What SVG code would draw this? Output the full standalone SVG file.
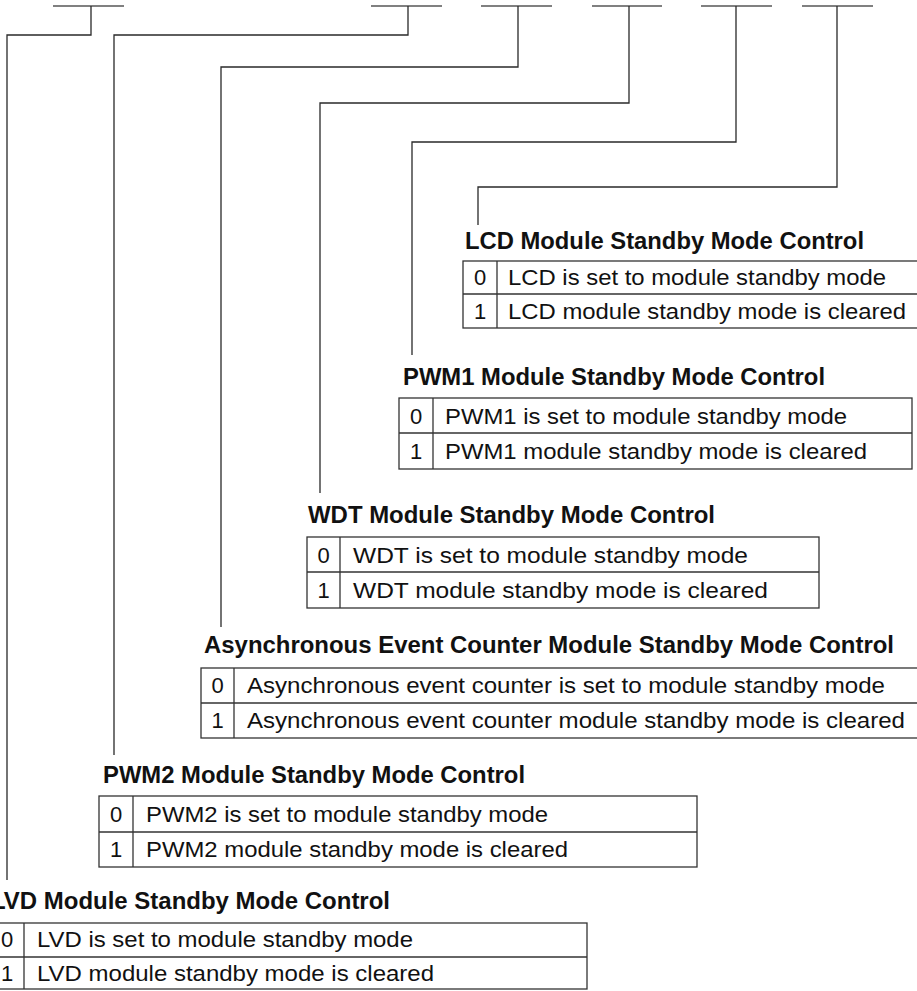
<svg xmlns="http://www.w3.org/2000/svg" width="917" height="991" viewBox="0 0 917 991">
<style>
.bar{stroke:#808080;stroke-width:2;fill:none}
.con{stroke:#2a2a2a;stroke-width:1.3;fill:none}
.tb{stroke:#333;stroke-width:1.3;fill:none}
.ttl{font-family:"Liberation Sans",Arial,sans-serif;font-weight:bold;font-size:23px;fill:#111}
.row{font-family:"Liberation Sans",Arial,sans-serif;font-size:22px;fill:#111}
.dig{font-family:"Liberation Sans",Arial,sans-serif;font-size:22px;fill:#111;text-anchor:middle}
</style>
<rect width="917" height="991" fill="#fff"/>
<g id="bits">
<line class="bar" x1="53" y1="6" x2="124" y2="6"/>
<line class="bar" x1="371" y1="6" x2="442" y2="6"/>
<line class="bar" x1="481" y1="6" x2="552" y2="6"/>
<line class="bar" x1="592" y1="6" x2="662" y2="6"/>
<line class="bar" x1="701" y1="6" x2="772" y2="6"/>
<line class="bar" x1="802" y1="6" x2="873" y2="6"/>
</g>
<g id="connectors">
<path class="con" d="M91,6 V35 H7 V880"/>
<path class="con" d="M408,6 V35 H114 V755"/>
<path class="con" d="M518,6 V67 H221 V627"/>
<path class="con" d="M629,6 V103 H320 V493"/>
<path class="con" d="M736,6 V142 H412 V355"/>
<path class="con" d="M837,6 V187 H478 V225"/>
</g>
<g id="lcd">
<text class="ttl" x="465" y="249" textLength="399" lengthAdjust="spacingAndGlyphs">LCD Module Standby Mode Control</text>
<rect class="tb" x="463" y="261" width="460" height="67"/>
<line class="tb" x1="463" y1="294" x2="923" y2="294"/>
<line class="tb" x1="497" y1="261" x2="497" y2="328"/>
<text class="dig" x="480" y="285">0</text>
<text class="dig" x="480" y="319">1</text>
<text class="row" x="508" y="285" textLength="378" lengthAdjust="spacingAndGlyphs">LCD is set to module standby mode</text>
<text class="row" x="508" y="319" textLength="398" lengthAdjust="spacingAndGlyphs">LCD module standby mode is cleared</text>
</g>
<g id="pwm1">
<text class="ttl" x="403" y="385" textLength="422" lengthAdjust="spacingAndGlyphs">PWM1 Module Standby Mode Control</text>
<rect class="tb" x="399" y="398" width="513" height="71"/>
<line class="tb" x1="399" y1="433" x2="912" y2="433"/>
<line class="tb" x1="433" y1="398" x2="433" y2="469"/>
<text class="dig" x="416" y="424">0</text>
<text class="dig" x="416" y="459">1</text>
<text class="row" x="445" y="424" textLength="402" lengthAdjust="spacingAndGlyphs">PWM1 is set to module standby mode</text>
<text class="row" x="445" y="459" textLength="422" lengthAdjust="spacingAndGlyphs">PWM1 module standby mode is cleared</text>
</g>
<g id="wdt">
<text class="ttl" x="308" y="523" textLength="407" lengthAdjust="spacingAndGlyphs">WDT Module Standby Mode Control</text>
<rect class="tb" x="307" y="537" width="512" height="71"/>
<line class="tb" x1="307" y1="572" x2="819" y2="572"/>
<line class="tb" x1="340" y1="537" x2="340" y2="608"/>
<text class="dig" x="323.5" y="563">0</text>
<text class="dig" x="323.5" y="598">1</text>
<text class="row" x="353" y="563" textLength="395" lengthAdjust="spacingAndGlyphs">WDT is set to module standby mode</text>
<text class="row" x="353" y="598" textLength="415" lengthAdjust="spacingAndGlyphs">WDT module standby mode is cleared</text>
</g>
<g id="aec">
<text class="ttl" x="204" y="653" textLength="690" lengthAdjust="spacingAndGlyphs">Asynchronous Event Counter Module Standby Mode Control</text>
<rect class="tb" x="201" y="668" width="722" height="70"/>
<line class="tb" x1="201" y1="703" x2="923" y2="703"/>
<line class="tb" x1="234" y1="668" x2="234" y2="738"/>
<text class="dig" x="217.5" y="693">0</text>
<text class="dig" x="217.5" y="728">1</text>
<text class="row" x="247" y="693" textLength="638" lengthAdjust="spacingAndGlyphs">Asynchronous event counter is set to module standby mode</text>
<text class="row" x="247" y="728" textLength="658" lengthAdjust="spacingAndGlyphs">Asynchronous event counter module standby mode is cleared</text>
</g>
<g id="pwm2">
<text class="ttl" x="103" y="783" textLength="422" lengthAdjust="spacingAndGlyphs">PWM2 Module Standby Mode Control</text>
<rect class="tb" x="99" y="796" width="598" height="71"/>
<line class="tb" x1="99" y1="832" x2="697" y2="832"/>
<line class="tb" x1="133" y1="796" x2="133" y2="867"/>
<text class="dig" x="116" y="822">0</text>
<text class="dig" x="116" y="857">1</text>
<text class="row" x="146" y="822" textLength="402" lengthAdjust="spacingAndGlyphs">PWM2 is set to module standby mode</text>
<text class="row" x="146" y="857" textLength="422" lengthAdjust="spacingAndGlyphs">PWM2 module standby mode is cleared</text>
</g>
<g id="lvd">
<text class="ttl" x="-9" y="909" textLength="399" lengthAdjust="spacingAndGlyphs">LVD Module Standby Mode Control</text>
<rect class="tb" x="-10" y="923" width="597" height="66"/>
<line class="tb" x1="-10" y1="957" x2="587" y2="957"/>
<line class="tb" x1="24" y1="923" x2="24" y2="989"/>
<text class="dig" x="7" y="947">0</text>
<text class="dig" x="7" y="981">1</text>
<text class="row" x="37" y="947" textLength="376" lengthAdjust="spacingAndGlyphs">LVD is set to module standby mode</text>
<text class="row" x="37" y="981" textLength="397" lengthAdjust="spacingAndGlyphs">LVD module standby mode is cleared</text>
</g>
</svg>
